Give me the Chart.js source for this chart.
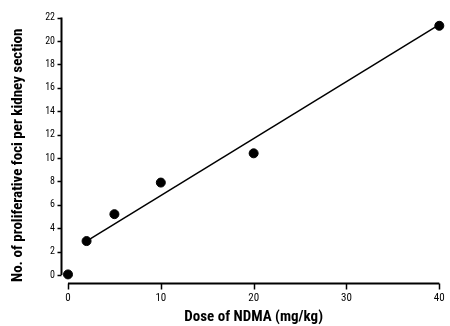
<!DOCTYPE html>
<html>
<head>
<meta charset="utf-8">
<script src="https://cdn.jsdelivr.net/npm/chart.js@4/dist/chart.umd.min.js"></script>
<style>
html,body{margin:0;padding:0;background:#fff;}
#wrap{width:450px;height:326px;position:relative;}
</style>
</head>
<body>
<div id="wrap"><canvas id="c"></canvas></div>
<script>
// Data
const doses = [0, 2, 5, 10, 20, 40];
const foci = [0.05, 2.9, 5.2, 7.9, 10.4, 21.3];
const fitX = [2, 40];
const fitY = [2.9, 21.4];
const xTicks = [0, 10, 20, 30, 40];
const yTicks = [0, 2, 4, 6, 8, 10, 12, 14, 16, 18, 20, 22];
const xTitle = 'Dose of NDMA (mg/kg)';
const yTitle = 'No. of proliferative foci per kidney section';

const FONT = '"Roboto Condensed", "Open Sans Condensed", sans-serif';

const axesPlugin = {
  id: 'axesPlugin',
  afterDraw(chart) {
    const ctx = chart.ctx;
    const xs = chart.scales.x, ys = chart.scales.y;
    const yAxisX = Math.round(xs.getPixelForValue(0)) - 7 + 0.5;
    const xAxisY = Math.round(ys.getPixelForValue(0)) + 8 + 0.5;
    ctx.save();
    ctx.strokeStyle = '#000';
    ctx.lineWidth = 2;
    ctx.beginPath();
    ctx.moveTo(yAxisX, ys.getPixelForValue(22));
    ctx.lineTo(yAxisX, ys.getPixelForValue(0));
    ctx.stroke();
    ctx.lineWidth = 1.5;
    yTicks.forEach(v => {
      const p = Math.round(ys.getPixelForValue(v)) + 0.5;
      ctx.beginPath();
      ctx.moveTo(yAxisX - 4, p);
      ctx.lineTo(yAxisX, p);
      ctx.stroke();
    });
    ctx.lineWidth = 2;
    ctx.beginPath();
    ctx.moveTo(xs.getPixelForValue(0), xAxisY);
    ctx.lineTo(xs.getPixelForValue(40), xAxisY);
    ctx.stroke();
    ctx.lineWidth = 1.5;
    xTicks.forEach(v => {
      const p = Math.round(xs.getPixelForValue(v)) + 0.5;
      ctx.beginPath();
      ctx.moveTo(p, xAxisY);
      ctx.lineTo(p, xAxisY + 6);
      ctx.stroke();
    });
    // y axis title
    ctx.translate(18, (ys.getPixelForValue(22) + ys.getPixelForValue(0)) / 2 + 9);
    ctx.rotate(-Math.PI / 2);
    ctx.fillStyle = '#000';
    ctx.font = 'bold 15px ' + FONT;
    ctx.textAlign = 'center';
    ctx.textBaseline = 'middle';
    ctx.fillText(yTitle, 0, 0);
    ctx.restore();
  }
};

new Chart(document.getElementById('c'), {
  type: 'scatter',
  data: {
    datasets: [
      {
        data: doses.map((d, i) => ({x: d, y: foci[i]})),
        backgroundColor: '#000',
        borderColor: '#000',
        pointRadius: 4.5,
        showLine: false,
        order: 1
      },
      {
        data: fitX.map((d, i) => ({x: d, y: fitY[i]})),
        borderColor: '#000',
        borderWidth: 1.5,
        pointRadius: 0,
        showLine: true,
        order: 2
      }
    ]
  },
  options: {
    responsive: true,
    maintainAspectRatio: false,
    animation: false,
    clip: false,
    layout: {autoPadding: false, padding: {top: 17.6, right: 10.7, left: 0, bottom: 0}},
    plugins: {legend: {display: false}, tooltip: {enabled: false}},
    scales: {
      x: {
        type: 'linear', min: 0, max: 40,
        afterBuildTicks: s => { s.ticks = xTicks.map(v => ({value: v})); },
        afterFit: s => { s.height = 51; s.paddingRight = 0; s.paddingLeft = 0; },
        grid: {display: false, drawTicks: false},
        border: {display: false},
        ticks: {padding: 17, color: '#000', font: {family: FONT, size: 11}, maxRotation: 0},
        title: {display: true, text: xTitle, color: '#000', font: {family: FONT, size: 15, weight: 'bold'}, padding: {top: 0, bottom: 0}}
      },
      y: {
        type: 'linear', min: 0, max: 22,
        afterBuildTicks: s => { s.ticks = yTicks.map(v => ({value: v})); },
        afterFit: s => { s.width = 68; s.paddingTop = 0; s.paddingBottom = 0; },
        grid: {display: false, drawTicks: false},
        border: {display: false},
        ticks: {padding: 13, color: '#000', font: {family: FONT, size: 10}},
        title: {display: false}
      }
    }
  },
  plugins: [axesPlugin]
});
</script>
</body>
</html>
